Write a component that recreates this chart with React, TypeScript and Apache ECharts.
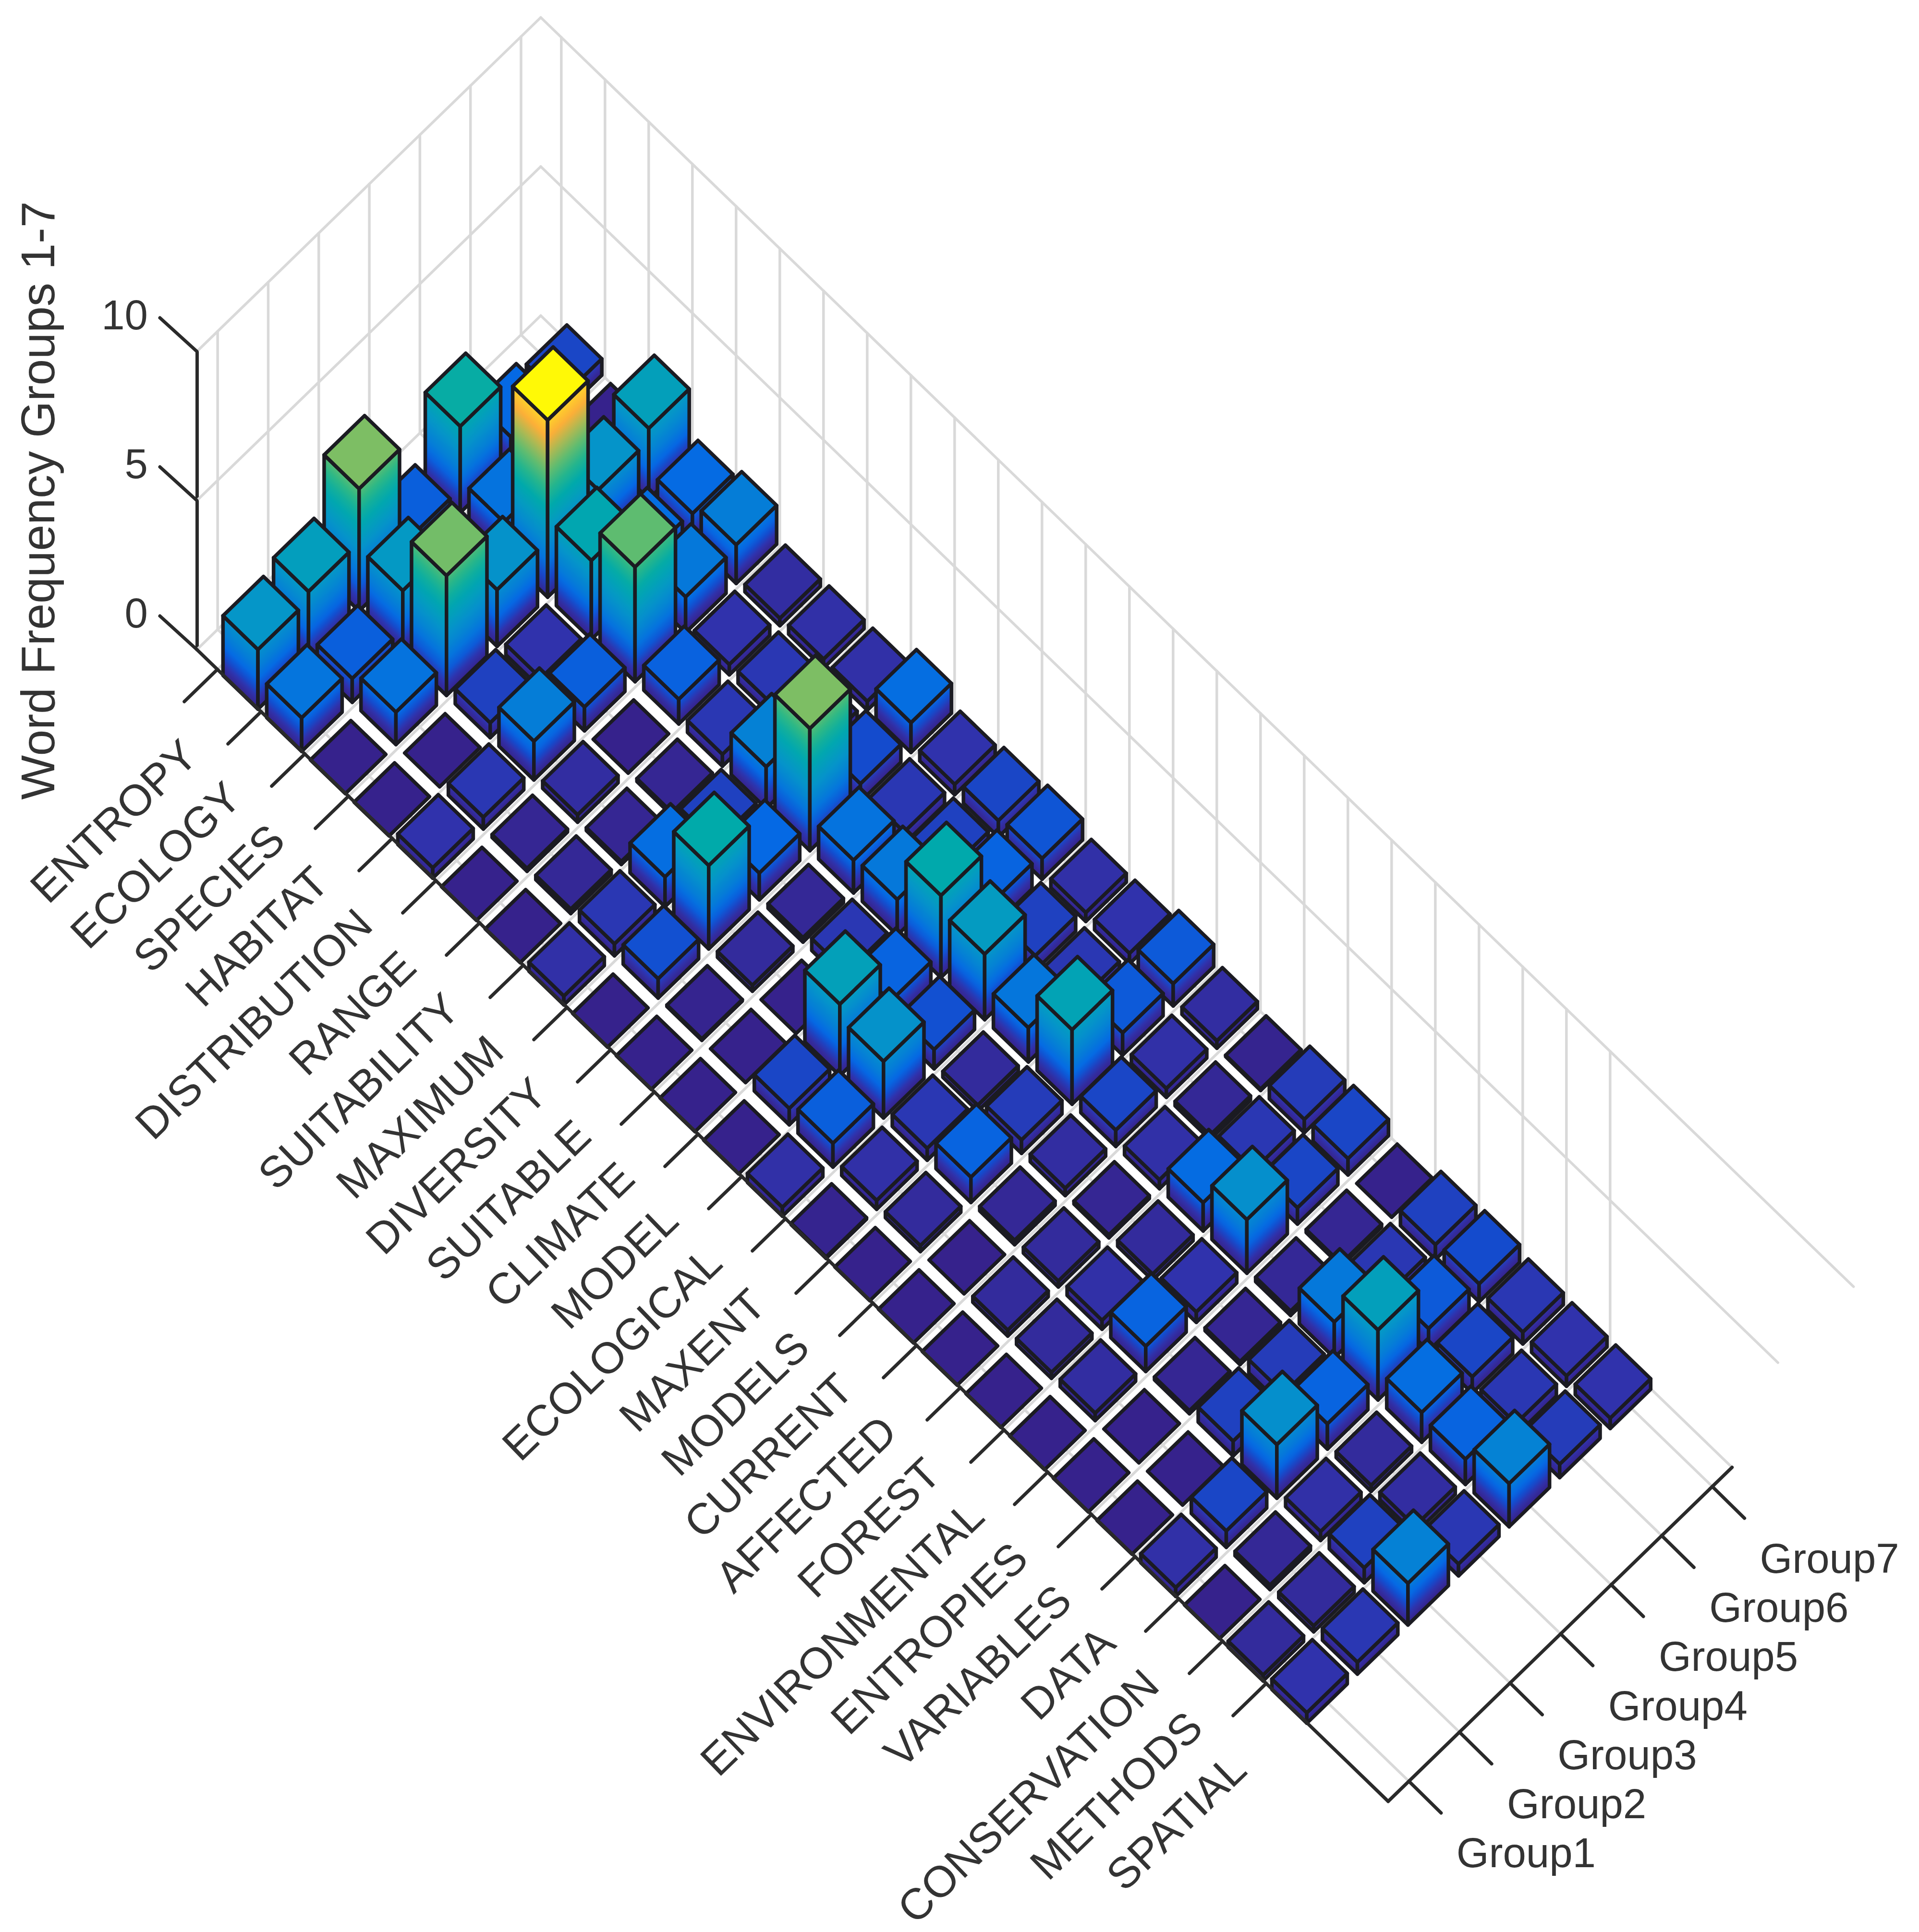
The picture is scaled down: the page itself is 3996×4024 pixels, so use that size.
import React, { useEffect, useRef } from "react";
import * as echarts from "echarts";

const words = ["ENTROPY","ECOLOGY","SPECIES","HABITAT","DISTRIBUTION","RANGE","SUITABILITY","MAXIMUM","DIVERSITY","SUITABLE","CLIMATE","MODEL","ECOLOGICAL","MAXENT","MODELS","CURRENT","AFFECTED","FOREST","ENVIRONMENTAL","ENTROPIES","VARIABLES","DATA","CONSERVATION","METHODS","SPATIAL"];
const groupNames = ["Group1","Group2","Group3","Group4","Group5","Group6","Group7"];
const zTicks = [0, 5, 10];
const zTitle = "Word Frequency Groups 1-7";

const group1 = [2,1.13,0,0,0.35,0,0,0.3,0,0,0,0,0.3,0.05,0,0,0,0,0,0,0,0.3,0,0.2,0.35];
const group2 = [2.3,0.8,1.09,0,0.4,0.1,0.15,0.4,0.65,0.05,0,0.55,0.8,0.3,0.2,0,0.2,0.2,0.25,0,0,0.55,0.15,0.2,0.4];
const group3 = [4.1,2.1,4.02,0.5,1.3,0.25,0.1,1,2.8,0.2,0,2.4,1.9,0.4,0.85,0.15,0.2,0.3,0.85,0.1,0.5,1.8,0.3,0.5,1.4];
const group4 = [0.8,0.5,1.9,0.35,0.8,0,0.1,0.5,0.9,0.15,0.4,0.85,0.65,0.2,0.45,0.25,0.1,0.2,0.35,0.1,0.45,0.85,0.2,0.25,0.4];
const group5 = [2.9,1.1,5.94,2.65,3.85,0.83,0.4,1.4,4.1,1.1,1.2,2.75,2.2,1.15,2.5,0.55,0.3,0.95,1.8,0.15,1.2,2.35,1,0.85,1.45];
const group6 = [0.9,0.5,1.95,1,1.2,0.35,0.4,0.3,0.6,0.4,0.5,0.85,0.5,0.4,0.75,0.3,0.15,0.4,0.55,0.1,0.4,0.75,0.55,0.4,0.45];
const group7 = [0.55,0,2.37,0.93,1.3,0.25,0.3,0.3,1,0.35,0.55,0.7,0.3,0.35,0.75,0.25,0.05,0.45,0.55,0,0.5,0.6,0.4,0.35,0.35];
const groupSeries = [group1, group2, group3, group4, group5, group6, group7];

const ramp: [number, number, number, number][] = [
  [0, 54, 34, 140],[0.15, 52, 40, 150],[0.35, 48, 50, 172],[0.6, 20, 75, 205],[0.9, 5, 105, 228],
  [1.3, 5, 125, 215],[2, 5, 150, 200],[2.8, 0, 170, 170],[3.5, 50, 185, 130],[4.1, 125, 190, 100],
  [5, 255, 175, 55],[5.6, 255, 215, 40],[6, 255, 255, 0],
];
function rampColor(z: number) {
  for (let i = 1; i < ramp.length; i++) {
    if (z <= ramp[i][0]) {
      const a = ramp[i - 1], b = ramp[i];
      const t = (z - a[0]) / (b[0] - a[0]);
      return `rgb(${Math.round(a[1] + (b[1] - a[1]) * t)},${Math.round(a[2] + (b[2] - a[2]) * t)},${Math.round(a[3] + (b[3] - a[3]) * t)})`;
    }
  }
  return "rgb(255,255,0)";
}

// projection constants (screen pixels per data unit)
const W = [91, 88];
const G = [105.3, -102.3];
const ORIGIN_OFFSET_Y = 48;
const D = 0.4;
const AX_W = -1.46;
const EDGE = "#1b1b22";
const AXIS = "#2a2a2a";
const GRID = "#d9d9d9";
const FONT = '"Liberation Sans", Arial, sans-serif';

function sideFill(p: number[], H: number, e: number[], h: number) {
  const len2 = e[0] * e[0] + e[1] * e[1];
  const vx = (-e[1] * e[0] * H) / len2, vy = (e[0] * e[0] * H) / len2;
  const colorStops = [];
  const n = 10;
  for (let i = 0; i <= n; i++) {
    const z = h * (1 - i / n);
    colorStops.push({ offset: i / n, color: rampColor(z * 0.93) });
  }
  return { type: "linear", x: p[0], y: p[1], x2: p[0] + vx, y2: p[1] + vy, global: true, colorStops };
}

function renderBar(params: any, api: any) {
  const w = api.value(0), g = api.value(1), h = api.value(2);
  const pr = (a: number, b: number, z: number) => {
    const c = api.coord([w + a, z]);
    return [c[0] + G[0] * (g + b), c[1] + ORIGIN_OFFSET_Y + W[1] * (w + a) + G[1] * (g + b)];
  };
  const lt = pr(-D, -D, h), bt = pr(D, -D, h), rt = pr(D, D, h), tt = pr(-D, D, h);
  const l0 = pr(-D, -D, 0), b0 = pr(D, -D, 0), r0 = pr(D, D, 0);
  const H = l0[1] - lt[1];
  const stroke = { stroke: EDGE, lineWidth: 7.5, lineJoin: "round" };
  const children: any[] = [];
  if (h > 0.02) {
    children.push({ type: "polygon", shape: { points: [lt, bt, b0, l0] }, style: { fill: sideFill(lt, H, W, h), ...stroke } });
    children.push({ type: "polygon", shape: { points: [bt, rt, r0, b0] }, style: { fill: sideFill(bt, H, G, h), ...stroke } });
  }
  children.push({ type: "polygon", shape: { points: [lt, bt, rt, tt] }, style: { fill: rampColor(h), ...stroke } });
  return { type: "group", children };
}

function frame(api: any) {
  const o0 = api.coord([AX_W, 0]);
  const u = o0[1] - api.coord([AX_W, 1])[1];
  const nWords = 27.26, nGroups = 6.8;
  const pt = (wt: number, gt: number, z: number) => [o0[0] + wt * W[0] + gt * G[0], o0[1] + wt * W[1] + gt * G[1] - z * u];
  return { pt, nWords, nGroups };
}

function line(a: number[], b: number[], stroke: string, lineWidth: number) {
  return { type: "line", shape: { x1: a[0], y1: a[1], x2: b[0], y2: b[1] }, style: { stroke, lineWidth, lineCap: "round" } };
}

function renderWalls(params: any, api: any) {
  const { pt, nWords, nGroups } = frame(api);
  const c: any[] = [];
  const lw = 5.5;
  zTicks.forEach((z) => c.push(line(pt(0, 0, z), pt(0, nGroups, z), GRID, lw)));
  c.push(line(pt(0, nGroups, 0), pt(nWords, nGroups, 0), GRID, lw));
  c.push(line(pt(0, nGroups, 5), pt(nWords + 1.05, nGroups, 5), GRID, lw));
  c.push(line(pt(0, nGroups, 10), pt(nWords + 2.78, nGroups, 10), GRID, lw));
  groupNames.forEach((_, i) => {
    const v = 0.41 + i;
    c.push(line(pt(0, v, 0), pt(0, v, 10), GRID, lw));
    c.push(line(pt(0, v, 0), pt(nWords, v, 0), GRID, lw));
  });
  words.forEach((_, i) => {
    const t = 0.47 + i;
    c.push(line(pt(t, nGroups, 0), pt(t, nGroups, 10), GRID, lw));
    c.push(line(pt(t, 0, 0), pt(t, nGroups, 0), GRID, lw));
  });
  return { type: "group", children: c };
}

function renderAxes(params: any, api: any) {
  const { pt, nWords, nGroups } = frame(api);
  const c: any[] = [];
  const lw = 7;
  c.push(line(pt(0, 0, 0), pt(nWords, 0, 0), AXIS, lw));
  c.push(line(pt(nWords, 0, 0), pt(nWords, nGroups, 0), AXIS, lw));
  zTicks.forEach((z) => {
    const a = pt(0, 0, z);
    c.push(line(a, [a[0] - 77, a[1] - 70], AXIS, lw));
    c.push({
      type: "text", x: a[0] - 102, y: a[1] - 77,
      style: { text: String(z), align: "right", verticalAlign: "middle", fill: "#333", font: `87px ${FONT}` },
    });
  });
  words.forEach((name, i) => {
    const a = pt(0.47 + i, 0, 0);
    c.push(line(a, [a[0] - 69, a[1] + 67], AXIS, lw));
    c.push({
      type: "text", x: a[0] - 58, y: a[1] + 163, rotation: (44 * Math.PI) / 180,
      style: { text: name, align: "right", verticalAlign: "middle", fill: "#333", font: `91px ${FONT}` },
    });
  });
  groupNames.forEach((name, i) => {
    const a = pt(nWords, 0.41 + i, 0);
    c.push(line(a, [a[0] + 67, a[1] + 66], AXIS, lw));
    c.push({
      type: "text", x: a[0] + 244, y: a[1] + 149,
      style: { text: name, align: "center", verticalAlign: "middle", fill: "#333", font: `87px ${FONT}` },
    });
  });
  return { type: "group", children: c };
}

const cells: number[][] = [];
for (let g = groupSeries.length - 1; g >= 0; g--) {
  groupSeries[g].forEach((h, w) => cells.push([w, g, h]));
}

export default function App() {
  const ref = useRef<HTMLDivElement>(null);
  useEffect(() => {
    document.body.style.margin = "0";
    const chart = echarts.init(ref.current!, null, { renderer: "svg" });
    chart.setOption({
      animation: false,
      backgroundColor: "#fff",
      grid: { left: 410, top: 732, width: 3318, height: 621, containLabel: false, outerBoundsMode: "none" },
      xAxis: { type: "value", min: AX_W, max: 35, show: false },
      yAxis: {
        type: "value", min: 0, max: 10, interval: 5,
        name: zTitle, nameLocation: "middle", nameGap: 282, nameRotate: 90,
        nameTextStyle: { fontFamily: "Liberation Sans", fontSize: 98.5, color: "#333" },
        axisLine: { show: true, onZero: false, lineStyle: { color: AXIS, width: 7 } },
        axisTick: { show: false },
        splitLine: { show: false },
        axisLabel: { show: false },
      },
      series: [
        { type: "custom", coordinateSystem: "cartesian2d", data: [[0, 0]], renderItem: renderWalls, silent: true, z: 1 },
        { type: "custom", coordinateSystem: "cartesian2d", data: cells, encode: { x: 0, y: 2 }, renderItem: renderBar, silent: true, z: 2 },
        { type: "custom", coordinateSystem: "cartesian2d", data: [[0, 0]], renderItem: renderAxes, silent: true, z: 3 },
      ],
    });
    return () => chart.dispose();
  }, []);
  return <div ref={ref} style={{ position: "absolute", left: 0, top: 0, width: 3996, height: 4024 }} />;
}
